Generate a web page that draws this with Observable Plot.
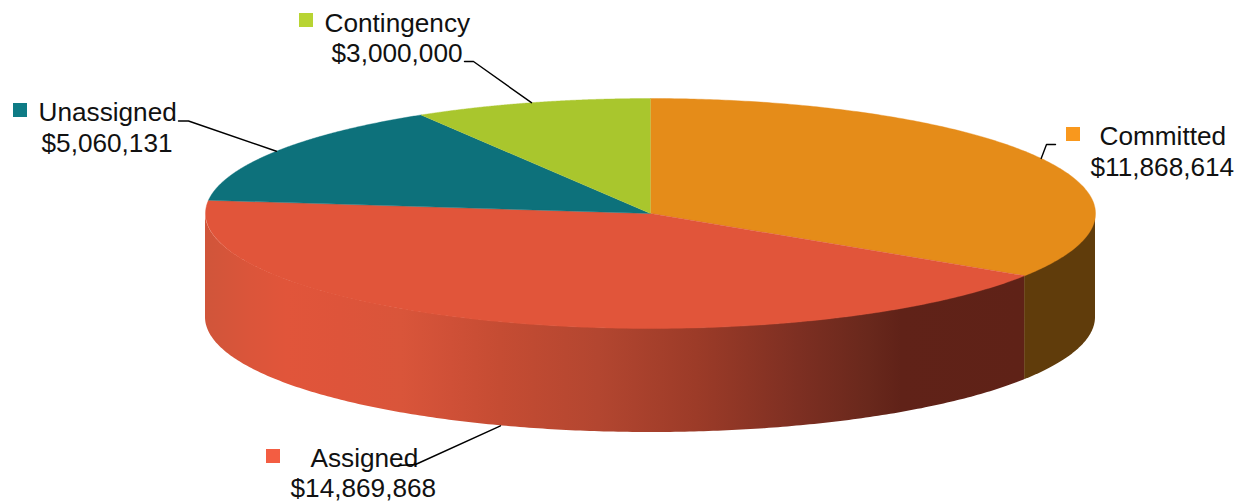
<!DOCTYPE html>
<html><head><meta charset="utf-8">
<script src="https://cdn.jsdelivr.net/npm/d3@7"></script>
<script src="https://cdn.jsdelivr.net/npm/@observablehq/plot@0.6"></script>
<style>html,body{margin:0;padding:0;background:#fff;overflow:hidden}svg{display:block}</style>
</head><body><div id="chart"></div>
<script>
// Data
const categories = ["Committed", "Assigned", "Unassigned", "Contingency"];
const amounts = [11868614, 14869868, 5060131, 3000000];
// Styles
const topColors = ["#e58c19", "#e1553a", "#0d717b", "#a9c62d"];
const swatchColors = ["#f9981d", "#f35d42", "#0e7b85", "#b8d433"];
const assignedWallStops = [[0,"#d0553a"],[0.055,"#db553a"],[0.10,"#e1553a"],[0.165,"#de543a"],[0.24,"#d9553a"],[0.30,"#cf5037"],[0.36,"#c54c33"],[0.48,"#b34630"],[0.60,"#9c3b28"],[0.725,"#7d2f22"],[0.81,"#69281c"],[0.85,"#602218"],[1,"#5f2217"]];
const committedWall = "#603c0b";
// Pie geometry in pixels
const W = 1243, H = 503, CX = 650, CY = 213, RX = 445, RY = 115, DEPTH = 104;
// Label layout in pixels, one row per category
const nameX = [1099, 310, 38, 324], nameBase = [144.5, 466, 120, 31];
const valueX = [1090, 290, 41, 331], valueBase = [175.5, 496, 151, 61.5];
const swatchX = [1066, 266, 13, 299], swatchY = [127, 449, 103, 13];
const elbowX = [1046, 415, 188, 473], elbowY = [144, 464, 120.5, 61];
const endX = [1055, 398, 178, 464], endY = [144, 465, 120.5, 61];
const onWall = [false, true, false, false];

const pie = d3.pie().sort(null)(amounts);
const px = a => CX + RX * Math.sin(a), py = a => CY - RY * Math.cos(a);
const arcPts = (a0, a1) => d3.range(0, 241).map(i => a0 + (a1 - a0) * i / 240);

const slices = categories.map((name, i) => ({
  name, color: topColors[i],
  pts: [[CX, CY], ...arcPts(pie[i].startAngle, pie[i].endAngle).map(a => [px(a), py(a)])]
}));
const wall = (a0, a1) => arcPts(a0, a1).map(a => ({x: px(a), y1: py(a), y2: py(a) + DEPTH}));

const labels = categories.map((name, i) => {
  const mid = (pie[i].startAngle + pie[i].endAngle) / 2;
  return {name, value: d3.format("$,")(amounts[i]), i,
    leader: [[px(mid), py(mid) + (onWall[i] ? DEPTH : 0)], [elbowX[i], elbowY[i]], [endX[i], endY[i]]]};
});

const gradient = () => {
  const defs = d3.create("svg:defs");
  const g = defs.append("linearGradient").attr("id", "assignedWall").attr("x1", 0).attr("x2", 1).attr("y1", 0).attr("y2", 0);
  assignedWallStops.forEach(([o, c]) => g.append("stop").attr("offset", o).attr("stop-color", c));
  return defs.node();
};

const font = {fontSize: 26.2, fontFamily: "Liberation Sans", fill: "#111", textAnchor: "start", lineAnchor: "bottom"};

const chart = Plot.plot({
  width: W, height: H, margin: 0,
  x: {domain: [0, W], range: [0, W], axis: null},
  y: {domain: [0, H], range: [0, H], axis: null},
  marks: [
    gradient,
    Plot.areaY(wall(pie[0].endAngle, Math.PI / 2), {x: "x", y1: "y1", y2: "y2", fill: committedWall}),
    Plot.areaY(wall(pie[0].endAngle, 3 * Math.PI / 2), {x: "x", y1: "y1", y2: "y2", fill: "url(#assignedWall)"}),
    ...slices.map(s => Plot.line(s.pts, {x: d => d[0], y: d => d[1], fill: s.color, stroke: s.color, strokeWidth: 0.4})),
    Plot.rect(labels, {x1: d => swatchX[d.i], x2: d => swatchX[d.i] + 14, y1: d => swatchY[d.i], y2: d => swatchY[d.i] + 14, fill: d => swatchColors[d.i]}),
    Plot.text(labels, {...font, x: d => nameX[d.i], y: d => nameBase[d.i], text: "name"}),
    Plot.text(labels, {...font, x: d => valueX[d.i], y: d => valueBase[d.i], text: "value"}),
    ...labels.map(l => Plot.line(l.leader, {x: d => d[0], y: d => d[1], stroke: "#000", strokeWidth: 1.4}))
  ]
});
document.getElementById("chart").append(chart);
</script></body></html>
